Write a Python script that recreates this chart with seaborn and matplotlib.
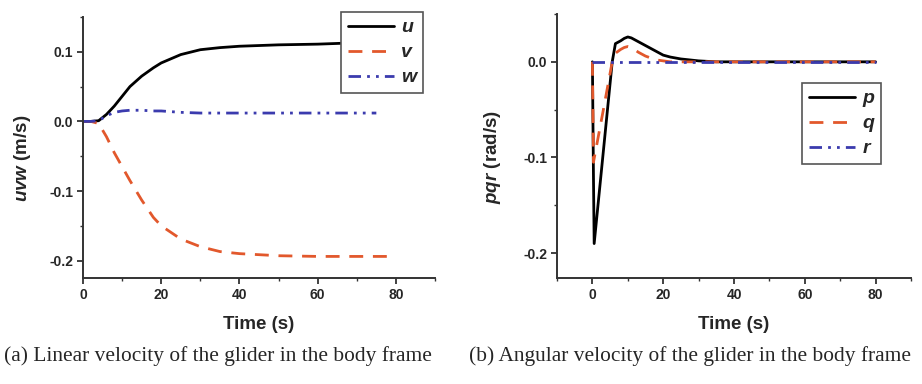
import numpy as np
import pandas as pd
import matplotlib
matplotlib.use("Agg")
import matplotlib.pyplot as plt
from matplotlib.ticker import MultipleLocator
import seaborn as sns

# ---- data ----
t_uvw = [0, 2, 4, 6, 8, 10, 12, 15, 18, 20, 25, 30, 35, 40, 50, 60, 70, 75, 80]
u = [0, 0, 0.001, 0.01, 0.022, 0.036, 0.05, 0.065, 0.077, 0.084, 0.096, 0.103,
     0.106, 0.108, 0.110, 0.111, 0.113, 0.113, 0.113]
v = [0, 0, -0.003, -0.022, -0.045, -0.065, -0.085, -0.113, -0.138, -0.15, -0.169,
     -0.18, -0.187, -0.19, -0.193, -0.194, -0.194, -0.194, -0.194]
w = [0, 0, 0.001, 0.008, 0.013, 0.015, 0.016, 0.016, 0.015, 0.015, 0.013, 0.012,
     0.012, 0.012, 0.012, 0.012, 0.012, 0.012, np.nan]

t_pqr = [0, 0.3, 0.5, 3, 5.6, 6.5, 8, 9, 10, 11, 13, 15, 18, 20, 22, 25, 30, 35, 40, 60, 80]
p = [0, -0.12, -0.19, -0.097, 0.0, 0.019, 0.022, 0.0245, 0.026, 0.025, 0.021, 0.017,
     0.011, 0.007, 0.005, 0.003, 0.001, 0.0, 0.0, 0.0, 0.0]
q = [0, -0.105, -0.101, -0.052, 0.0, 0.009, 0.013, 0.015, 0.016, 0.015, 0.010, 0.006,
     0.002, 0.001, 0.0, 0.0, 0.0, 0.0, 0.0, 0.0, 0.0]
r = [0] * len(t_pqr)

left_labels = ["u", "v", "w"]
right_labels = ["p", "q", "r"]
captions = ["(a) Linear velocity of the glider in the body frame",
            "(b) Angular velocity of the glider in the body frame"]

# ---- styling ----
sns.set_theme(style="white")
plt.rcParams["font.family"] = ["Liberation Sans", "DejaVu Sans"]
plt.rcParams["mathtext.fontset"] = "custom"
plt.rcParams["mathtext.it"] = "Liberation Sans:italic:bold"
plt.rcParams["mathtext.rm"] = "Liberation Sans:bold"

colors = ["black", "#E2582C", "#3B3BAE"]
styles = ["-", (0, (5, 3.5)), (0, (4.5, 2.2, 1.0, 2.2, 1.0, 2.2))]

fig = plt.figure(figsize=(9.22, 3.84), dpi=100)
axL = fig.add_axes([83 / 922, 1 - 278 / 384, 352 / 922, 261 / 384])
axR = fig.add_axes([557 / 922, 1 - 278 / 384, 354 / 922, 264 / 384])

for ys, lab, c, ls in zip([u, v, w], left_labels, colors, styles):
    sns.lineplot(x=t_uvw, y=ys, ax=axL, color=c, linestyle=ls, linewidth=2.0,
                 label=lab, estimator=None, sort=False)
for ys, lab, c, ls in zip([p, q, r], right_labels, colors, styles):
    sns.lineplot(x=t_pqr, y=ys, ax=axR, color=c, linestyle=ls, linewidth=2.0,
                 label=lab, estimator=None, sort=False)

axL.set_xlim(0, 90)
axL.set_ylim(-0.225, 0.15)
axR.set_xlim(-10, 90)
axR.set_ylim(-0.226, 0.05)

fmt1 = plt.FuncFormatter(lambda x, pos: f"{x:.1f}")
fmt0 = plt.FuncFormatter(lambda x, pos: f"{x:.0f}")
for ax in (axL, axR):
    for s in ("top", "right"):
        ax.spines[s].set_visible(False)
    for s in ("left", "bottom"):
        ax.spines[s].set_color("#333333")
        ax.spines[s].set_linewidth(1.4)
    ax.xaxis.set_major_locator(MultipleLocator(20))
    ax.xaxis.set_minor_locator(MultipleLocator(10))
    ax.yaxis.set_major_locator(MultipleLocator(0.1))
    ax.yaxis.set_minor_locator(MultipleLocator(0.05))
    ax.yaxis.set_major_formatter(fmt1)
    ax.xaxis.set_major_formatter(fmt0)
    ax.tick_params(which="major", direction="out", length=4, width=1.3,
                   color="#333333", labelsize=10, pad=3)
    ax.tick_params(which="minor", direction="out", length=2.5, width=1.0,
                   color="#333333")
    ax.tick_params(axis="both", which="both", bottom=True, left=True)
    for tl in ax.get_xticklabels() + ax.get_yticklabels():
        tl.set_fontweight("bold")
    ax.set_xlabel("Time (s)", fontsize=13.5, fontweight="bold")
    ax.xaxis.set_label_coords(0.5, -0.145)

axL.set_ylabel(r"$uvw$ (m/s)", fontsize=13.5, fontweight="bold")
axL.yaxis.set_label_coords(-0.142, 0.46)
axR.set_ylabel(r"$pqr$ (rad/s)", fontsize=13.5, fontweight="bold")
axR.yaxis.set_label_coords(-0.153, 0.458)

legprops = dict(fontsize=14, handlelength=2.4, labelspacing=0.38, borderpad=0.35,
                handletextpad=0.35, fancybox=False, framealpha=1, borderaxespad=0,
                edgecolor="#555555", alignment="right")
legL = axL.legend(loc="upper right", bbox_to_anchor=(0.966, 1.019), **legprops)
legR = axR.legend(loc="upper right", bbox_to_anchor=(0.915, 0.739), **legprops)
for leg in (legL, legR):
    leg.get_frame().set_linewidth(1.2)
    for t in leg.get_texts():
        t.set_fontstyle("italic")
        t.set_fontweight("bold")

fig.text(218 / 922, 1 - 356 / 384, captions[0], ha="center", va="center",
         fontsize=15.4, family=["Liberation Serif", "DejaVu Serif"])
fig.text(690 / 922, 1 - 356 / 384, captions[1], ha="center", va="center",
         fontsize=15.4, family=["Liberation Serif", "DejaVu Serif"])

fig.savefig("out.png", dpi=100)
